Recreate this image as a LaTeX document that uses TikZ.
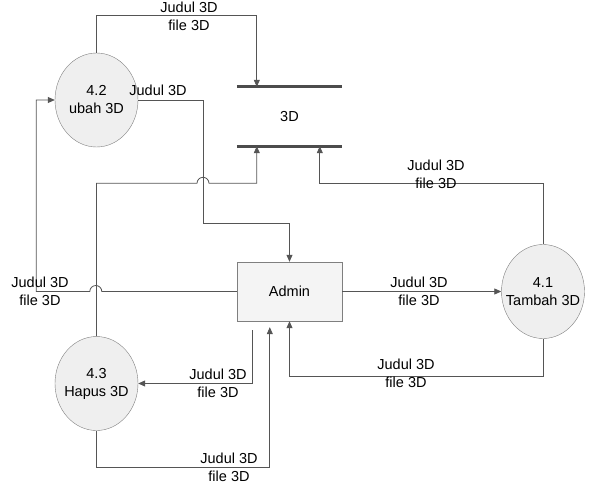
\documentclass[tikz,border=0pt]{standalone}
\usepackage{fontspec}
\setmainfont{Liberation Sans}
\usepackage{tikz}
\usetikzlibrary{arrows.meta, positioning, shapes.geometric}

\definecolor{linegray}{HTML}{555555}
\definecolor{procfill}{HTML}{EFEFEF}
\definecolor{procdraw}{HTML}{7F7F7F}

\begin{document}
\begin{tikzpicture}[
  x=1pt, y=-1pt,
  every node/.style={font=\fontsize{14.5}{18}\selectfont},
  proc/.style={ellipse, draw=procdraw, fill=procfill, minimum width=83pt, minimum height=94pt, align=center, inner xsep=-15pt, inner ysep=0pt},
  entity/.style={rectangle, draw=procdraw, fill=procfill!70, minimum width=105pt, minimum height=59pt},
  store/.style={minimum width=105pt, minimum height=59pt, inner sep=0pt},
  storeline/.style={line width=3pt, draw=linegray!90!black},
  flow/.style={-{Triangle[length=7pt, width=6pt]}, draw=linegray, line width=0.8pt},
  lbl/.style={align=center, inner sep=0pt}
]
\useasboundingbox (0,0) rectangle (591,485);

% --- Processes ---
\node[proc] (p42) at (96.5,100) {4.2\\ubah 3D};
\node[proc] (p41) at (543,291.5) {4.1\\Tambah 3D};
\node[proc] (p43) at (96.5,383.5) {4.3\\Hapus 3D};

% --- External entity and data store ---
\node[entity] (admin) at (289.5,291.5) {Admin};
\node[store] (store) at (289.5,116.5) {3D};
\draw[storeline] (store.north west) -- (store.north east);
\draw[storeline] (store.south west) -- (store.south east);

% --- Flows ---
\draw[flow] (p42.north) -- ++(0,-37) -| ([xshift=20pt]store.north west);
\draw[flow] (p42.east) -- ++(65,0) -- ++(0,123) -| (admin.north);
\draw[flow] (p43.north) -- ++(0,-153) -- ++(100.5,0)
  arc[start angle=180, end angle=0, radius=6pt] -| ([xshift=20pt]store.south west);
\draw[flow] (p41.north) -- ++(0,-61) -| ([xshift=83pt]store.south west);
\draw[flow] (admin.east) -- (p41.west);
\draw[flow] (p41.south) -- ++(0,38) -| (admin.south);
\draw[flow] (admin.west) -- ++(-135,0)
  arc[start angle=0, end angle=180, radius=6pt] -- ++(-53.5,0) |- (p42.west);
\draw[flow, shorten <=9pt] ([xshift=16pt]admin.south west) |- (p43.east);
\draw[flow, shorten >=6pt] (p43.south) -- ++(0,37) -| ([xshift=33pt]admin.south west);

% --- Flow labels ---
\node[lbl] (l1) at (189,16.5) {Judul 3D\\file 3D};
\node[lbl] (l2) at (158,90) {Judul 3D};
\node[lbl] (l4) at (436,174) {Judul 3D\\file 3D};
\node[lbl] (l5) at (419,291) {Judul 3D\\file 3D};
\node[lbl] (l6) at (406,373) {Judul 3D\\file 3D};
\node[lbl] (l7) at (40,291) {Judul 3D\\file 3D};
\node[lbl] (l8) at (218,383) {Judul 3D\\file 3D};
\node[lbl] (l9) at (229,467) {Judul 3D\\file 3D};

\end{tikzpicture}
\end{document}
